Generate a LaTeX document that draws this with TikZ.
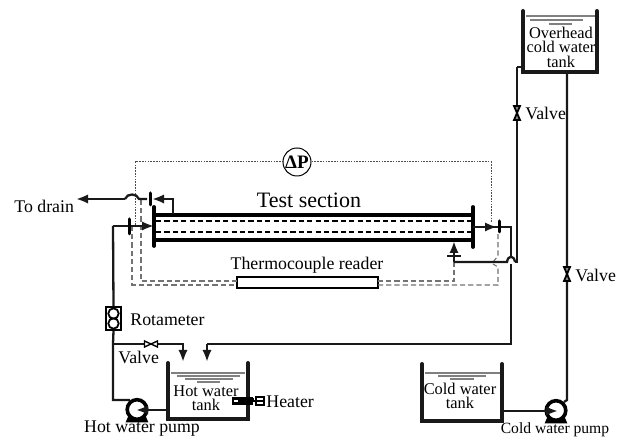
\documentclass[tikz,border=0pt]{standalone}
\usepackage{fontspec}
\setmainfont{Liberation Serif}
\usetikzlibrary{arrows.meta}
\tikzset{
  pipe/.style={line width=1.15pt,black!90},
  wall/.style={line width=2pt,black!90,line cap=round},
  flange/.style={line width=1.9pt,black,line cap=round},
  tube/.style={line width=1.9pt,black},
  inner tube/.style={line width=1.1pt,black,dash pattern=on 2.6pt off 1.6pt},
  press/.style={line width=0.5pt,black!70,dash pattern=on 0.8pt off 0.6pt},
  sensor/.style={line width=0.55pt,black!55,dash pattern=on 2.6pt off 1.5pt},
  water/.style={line width=0.65pt,black!50},
  tip/.style={-{Latex[length=6pt,width=4.6pt]}},
  label/.style={font=\fontsize{8.9}{9}\selectfont,inner sep=0pt,text=black},
  tanklabel/.style={font=\fontsize{8.2}{7.2}\selectfont,inner sep=0pt,align=center,text=black},
  valvev/.pic={\draw[line width=0.9pt,fill=black!45] (-3,-7)--(3,-7)--(-3,7)--(3,7)--cycle;},
  valveh/.pic={\draw[line width=0.7pt,fill=white] (-6.5,-3)--(-6.5,3)--(6.5,-3)--(6.5,3)--cycle;},
  pump/.pic={
    \draw[line width=0.9pt,fill=black] (-10,12)--(10,12)--(7,5)--(-7,5)--cycle;
    \draw[line width=1.8pt,fill=white] (0,0) circle (9.8);
  }
}
\begin{document}
\begin{tikzpicture}[x=0.5pt,y=-0.5pt]
\clip (0,0) rectangle (628,437);
\useasboundingbox (0,0) rectangle (628,437);
\fill[white] (0,0) rectangle (628,437);
% named points
\coordinate (drain) at (76,199);
\coordinate (humpL) at (125,199);
\coordinate (humpR) at (139,199);
\coordinate (outbend) at (173,199);
\coordinate (outfoot) at (173,214);
\coordinate (inL) at (113,226);
\coordinate (flangeL) at (154,226);
\coordinate (flangeR) at (473,227);
\coordinate (rightbend) at (511,227);
\coordinate (riseBottom) at (511,344);
\coordinate (hotdrop) at (207,344);
\coordinate (hotdropTip) at (207,362);
\coordinate (branch) at (113,344);
\coordinate (branchCorner) at (183,344);
\coordinate (branchTip) at (183,362);
\coordinate (pumpin) at (113,400);
\coordinate (feedCorner) at (517,262);
\coordinate (feedTop) at (517,67);
\coordinate (annulusTip) at (454,241);
\coordinate (annulusCorner) at (454,262);
\coordinate (hump2R) at (515,262);
\coordinate (hump2L) at (507,262);
% nodes
\node[draw,line width=0.5pt,circle,minimum size=14pt,inner sep=0pt] (dp) at (297,162) {\fontsize{9.5}{10}\selectfont\textbf{ΔP}};
\node[label,font=\fontsize{11}{12}\selectfont] (ts) at (309,200) {Test section};
\node[label] (tcl) at (307,265) {Thermocouple reader};
\node[draw,line width=0.8pt,minimum width=70.5pt,minimum height=5.5pt,inner sep=0pt] (reader) at (307.5,282.5) {};
\node[label,anchor=west] (todrain) at (14,206) {To drain};
\node[label,anchor=west] (rotl) at (130,320) {Rotameter};
\node[label,anchor=west] (v1l) at (118,357) {Valve};
\node[label,anchor=west] (heatl) at (266,402) {Heater};
\node[label] (hwp) at (142,429) {Hot water pump};
\node[label,font=\fontsize{7.8}{9}\selectfont] (cwp) at (555,429.5) {Cold water pump};
\node[label,anchor=west] (v2l) at (525,113) {Valve};
\node[label,anchor=west] (v3l) at (575,275) {Valve};
\node[draw,line width=0.9pt,minimum width=7.5pt,minimum height=11.5pt,inner sep=0pt] (rot) at (113.5,318.5) {};
\draw[line width=0.9pt] (113.5,313.5) circle (5.2) (113.5,323.5) circle (5.2);
% test section
\draw[tube] (154,215)--(473,215) (154,240)--(473,240);
\draw[inner tube] (156,221)--(471,221) (156,232)--(471,232);
\draw[flange] (154,207)--(154,246);
\draw[flange] (473,207)--(473,247);
% dotted pressure line
\draw[press] (135,225)--(135,162)--(dp.west);
\draw[press] (dp.east)--(491,162)--(491,223);
% dashed thermocouple lines
\draw[sensor] (132,226)--(132,285)--(237,285);
\draw[sensor] (141,200)--(141,281)--(237,281);
\draw[sensor] (378,281)--(454,281)--(454,262);
\draw[sensor] (378,285)--(498,285)--(498,267)--(493,264);
\draw[sensor] (493,262)--(498,256)--(498,232);
% pipes
\draw[pipe,tip] (humpL)--(drain);
\draw[pipe] (humpL) .. controls (127,193) and (137,193) .. (humpR)--(147,199);
\draw[pipe,tip] (outfoot)--(outbend)--(152,199);
\draw[flange,line width=1.5pt] (150,193)--(150,205);
\draw[pipe,tip] (inL)--(flangeL);
\draw[flange,line width=1.5pt] (129,219)--(129,234);
\draw[pipe] (rot.north)--(inL);
\draw[pipe] (flangeR)--(rightbend)--(riseBottom)--(hotdrop);
\draw[pipe,tip] (flangeR)--(497,227);
\draw[flange,line width=1.5pt] (499,221)--(499,232);
\draw[pipe,tip] (hotdrop)--(hotdropTip);
\draw[pipe] (rot.south)--(branch)--(pumpin)--(130,400);
\draw[pipe,tip] (branch)--(branchCorner)--(branchTip);
\draw[pipe] (feedTop)--(feedCorner)--(hump2R);
\draw[line width=2pt,white] (511,258)--(511,266);
\draw[pipe] (hump2R) .. controls (514,255) and (508,255) .. (hump2L)--(annulusCorner);
\draw[pipe] (511,227)--(511,258) (511,264)--(511,344);
\draw[pipe,tip] (annulusCorner)--(annulusTip);
\draw[pipe] (447,256)--(461,256);
\draw[pipe] (feedTop)--(523,67);
\draw[pipe] (567,72)--(567,400)--(564,402);
\draw[pipe] (502,411)--(546,411);
% valves
\pic at (151,344) {valveh};
\pic at (517,113) {valvev};
\pic at (567,274) {valvev};
% hot tank
\draw[wall] (168,363)--(168,419)--(248,419)--(248,363);
\draw[water] (171,373)--(245,373);
\draw[water] (177,376)--(240,376);
\draw[water] (185,379)--(233,379);
\draw[water] (197,382)--(220,382);
\node[tanklabel] (hotl) at (206,398.5) {Hot water\\tank};
% heater
\draw[line width=1.1pt,fill=white] (233,398.5)--(252,398.5)--(252,403.5)--(233,403.5)--cycle;
\fill[black] (238,398.5) rectangle (254,402.5);
\draw[line width=1.1pt,fill=white] (256,397) rectangle (264,405);
\draw[line width=1.4pt] (252,401)--(264,401);
% pumps
\pic at (137,409.5) {pump};
\pic at (556,410.5) {pump};
\draw[pipe,tip] (168,410)--(136,410);
\draw[pipe,tip] (522,411)--(558,411);
% cold tank
\draw[wall] (422,364)--(422,421)--(502,421)--(502,364);
\draw[water] (425,373)--(500,373);
\draw[water] (438,376)--(486,376);
\draw[water] (450,379)--(474,379);
\node[tanklabel] (coldl) at (460,396) {Cold water\\tank};
% overhead tank
\draw[wall] (523,11)--(523,72)--(597,72)--(597,11);
\draw[water] (526,16)--(595,16);
\draw[water] (530,20)--(583,20);
\draw[water,line width=1pt] (549,24)--(572,24);
\node[tanklabel] (overl) at (561,47) {Overhead\\cold water\\tank};
\end{tikzpicture}
\end{document}
